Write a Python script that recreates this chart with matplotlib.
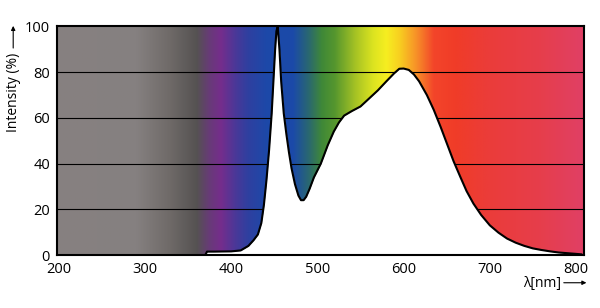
import numpy as np
import matplotlib
matplotlib.use("Agg")
import matplotlib.pyplot as plt
from matplotlib.colors import to_rgb

# ---- data ----
wavelength = [370, 372, 380, 400, 411, 420, 426, 431, 435, 438, 441, 444, 447, 449, 451, 452.5,
              454, 456, 458, 461, 464, 467, 470, 474, 478, 481, 484, 487, 491, 496, 504, 512,
              519, 525, 531, 540, 550, 560, 570, 580, 589, 595, 600, 606, 612, 618, 627, 635,
              643, 650, 658, 666, 673, 681, 690, 700, 710, 720, 730, 740, 750, 760, 770, 780,
              790, 800, 806]
intensity = [0, 1.5, 1.5, 1.6, 2, 4, 6.5, 9, 14, 22, 33, 46, 62, 76, 90, 98,
             100, 90, 76, 62, 53, 45, 38, 31, 26, 24, 24, 25.5, 29, 34, 40, 48,
             54, 58, 61, 63, 65, 68.5, 72, 76, 79.5, 81.5, 81.6, 81, 79, 76, 70, 63.5,
             56, 49, 41, 34, 28, 22.5, 17.5, 13, 9.8, 7.2, 5.4, 4, 2.9, 2.2, 1.6, 1.1,
             0.8, 0.5, 0.3]
x_ticks = [200, 300, 400, 500, 600, 700, 800]
y_ticks = [0, 20, 40, 60, 80, 100]

# background spectrum colour stops (style)
stops = [(198, '#878180'), (290, '#858080'), (330, '#6e6967'), (360, '#555252'),
         (375, '#683a78'), (388, '#752d8c'), (405, '#4a3898'), (420, '#2e40a0'),
         (440, '#1d48a8'), (472, '#1b4aa8'), (490, '#2a6870'), (505, '#3f8838'),
         (520, '#55962e'), (545, '#a8c424'), (565, '#dde420'), (580, '#f6ee20'),
         (595, '#f8d020'), (615, '#f79028'), (635, '#f3452a'), (660, '#f03c28'),
         (700, '#eb3c3a'), (760, '#e63e4c'), (810, '#e04066')]

plt.rcParams['font.family'] = ['Open Sans', 'DejaVu Sans']
fig = plt.figure(figsize=(6.0, 3.08), dpi=100)
ax = fig.add_axes([0.095, 0.172, 0.878, 0.742])
xmin, xmax = 198, 809
ax.set_xlim(xmin, xmax)
ax.set_ylim(0, 100)

xs = np.linspace(xmin, xmax, 800)
sw = [s[0] for s in stops]
cols = np.array([to_rgb(s[1]) for s in stops])
rgb = np.stack([np.interp(xs, sw, cols[:, i]) for i in range(3)], axis=-1)
img = np.repeat(rgb[None, :, :], 2, axis=0)
ax.imshow(img, extent=[xmin, xmax, 0, 100], aspect='auto', zorder=0, interpolation='bilinear')

for y in y_ticks[1:-1]:
    ax.axhline(y, color='black', lw=0.8, zorder=1)

ax.fill_between(wavelength, intensity, 0, color='white', zorder=2, lw=0)
ax.plot(wavelength, intensity, color='black', lw=1.5, zorder=3)

ax.set_xticks(x_ticks)
ax.set_yticks(y_ticks)
ax.tick_params(axis='both', length=0, labelsize=10.5)
ax.tick_params(axis='x', pad=5)
ax.tick_params(axis='y', pad=5)
ylabs = ax.get_yticklabels()
for s in ax.spines.values():
    s.set_linewidth(1.5)
    s.set_zorder(5)

fig.text(0.022, 0.70, 'Intensity (%)', rotation=90, ha='center', va='center', fontsize=10)
fig.add_artist(matplotlib.patches.FancyArrowPatch((0.022, 0.835), (0.022, 0.925),
               transform=fig.transFigure, arrowstyle='-|>', mutation_scale=6, lw=0.8, color='black'))
fig.text(0.872, 0.08, 'λ[nm]', ha='left', va='center', fontsize=10)
fig.add_artist(matplotlib.patches.FancyArrowPatch((0.935, 0.082), (0.982, 0.082),
               transform=fig.transFigure, arrowstyle='-|>', mutation_scale=6, lw=0.8, color='black'))

fig.savefig('out.png', dpi=100)
